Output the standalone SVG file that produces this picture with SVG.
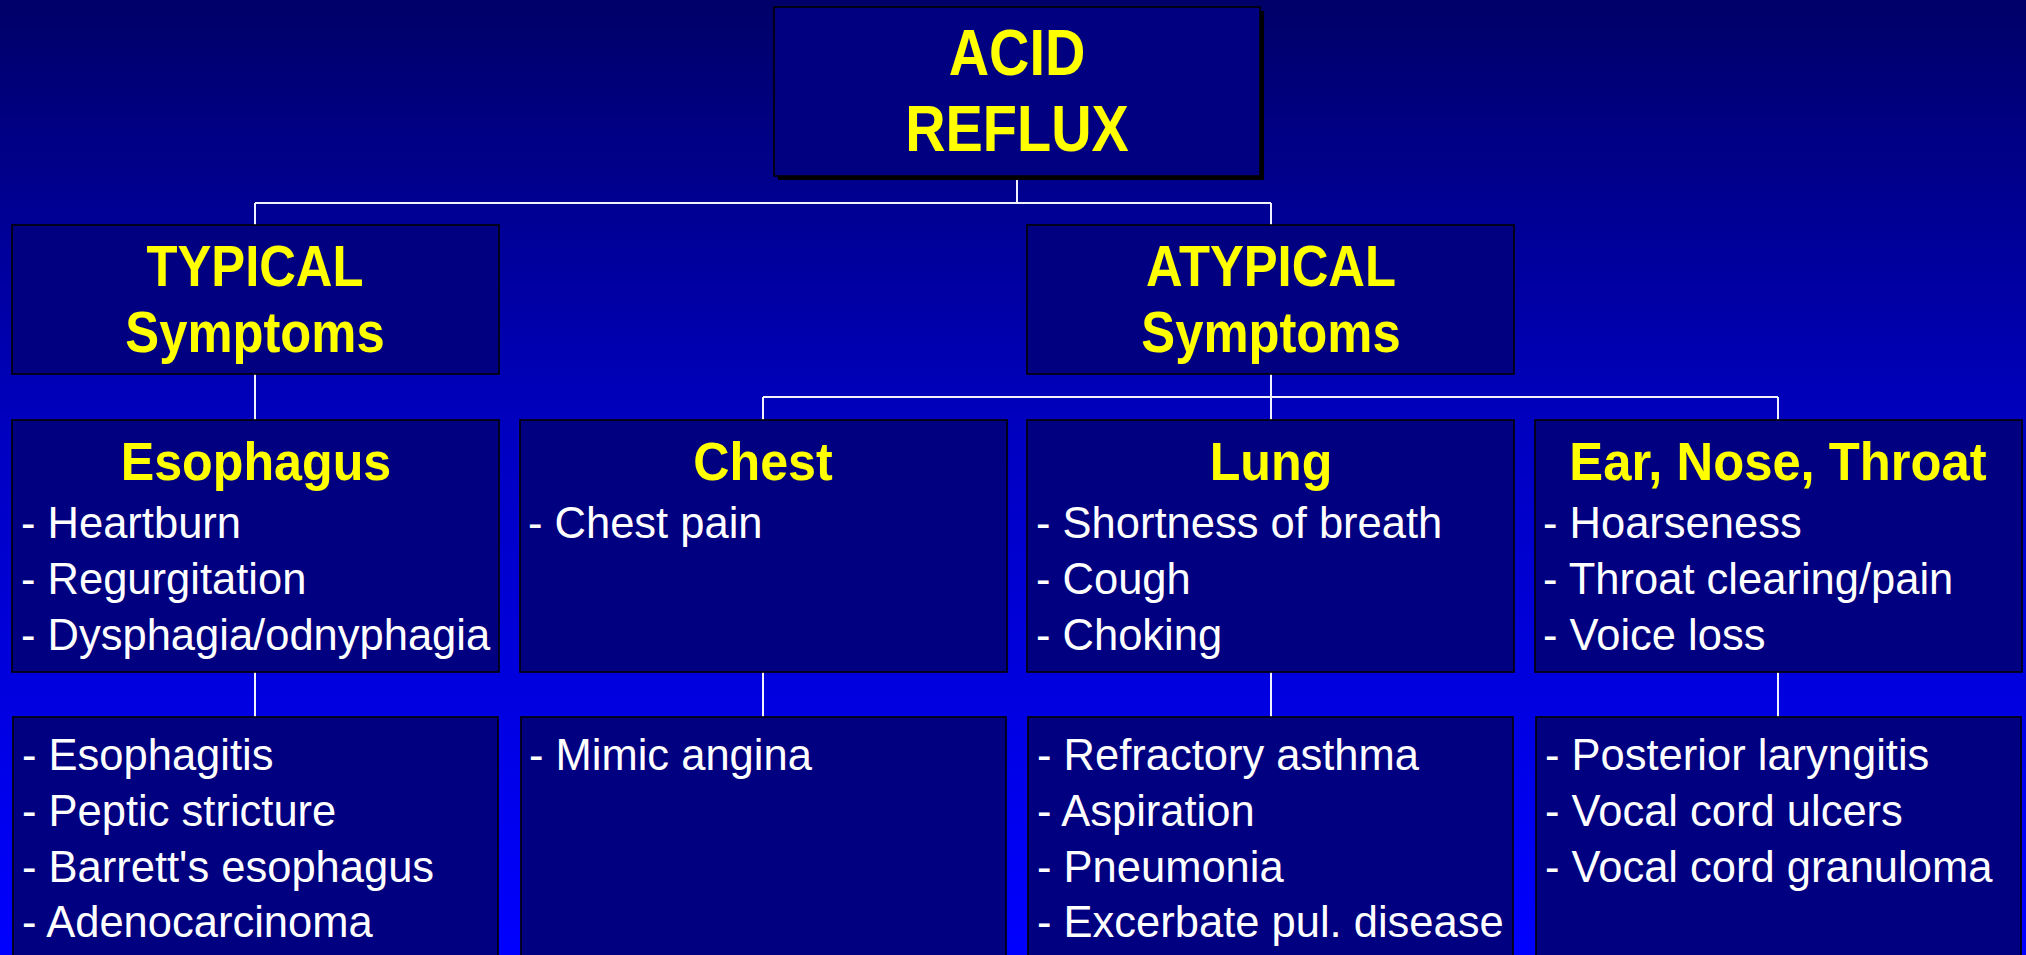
<svg xmlns="http://www.w3.org/2000/svg" width="2026" height="955" viewBox="0 0 2026 955">
<defs>
<linearGradient id="bg" x1="0" y1="0" x2="0" y2="955" gradientUnits="userSpaceOnUse">
<stop offset="0" stop-color="#000068"/>
<stop offset="0.45" stop-color="#0000c0"/>
<stop offset="1" stop-color="#0000ff"/>
</linearGradient>
</defs>
<style>
.box{fill:#000080;stroke:#000;stroke-width:1.6}
.shadow{fill:#000}
.conn{stroke:#f0f0ff;stroke-width:2;fill:none}
.hd{font-family:"Liberation Sans",Arial,sans-serif;font-weight:bold;fill:#ffff00;text-anchor:middle}
.it{font-family:"Liberation Sans",Arial,sans-serif;fill:#ffffff;font-size:43.5px}
</style>
<rect x="0" y="0" width="2026" height="955" fill="url(#bg)"/>
<g id="connectors">
<path class="conn" d="M1017 176V203M255 203H1271M255 203V225M1271 203V225"/>
<path class="conn" d="M255 374V420M1271 374V420M763 397H1778M763 397V420M1778 397V420"/>
<path class="conn" d="M255 672V717M763 672V717M1271 672V717M1778 672V717"/>
</g>
<g id="n-acid">
<rect class="shadow" x="778" y="11" width="486" height="169"/>
<rect class="box" x="774" y="7" width="486" height="169"/>
<text class="hd" font-size="65" transform="translate(1017,75) scale(0.86,1)">ACID</text>
<text class="hd" font-size="65" transform="translate(1017,151) scale(0.86,1)">REFLUX</text>
</g>
<g id="n-typical">
<rect class="box" x="12" y="225" width="487" height="149"/>
<text class="hd" font-size="57" transform="translate(255,286) scale(0.89,1)">TYPICAL</text>
<text class="hd" font-size="57" transform="translate(255,352) scale(0.89,1)">Symptoms</text>
</g>
<g id="n-atypical">
<rect class="box" x="1027" y="225" width="487" height="149"/>
<text class="hd" font-size="57" transform="translate(1271,286) scale(0.89,1)">ATYPICAL</text>
<text class="hd" font-size="57" transform="translate(1271,352) scale(0.89,1)">Symptoms</text>
</g>
<g id="n-esophagus">
<rect class="box" x="12" y="420" width="487" height="252"/>
<text class="hd" font-size="54" transform="translate(256,480) scale(0.93,1)">Esophagus</text>
<text class="it" x="21" y="538">- Heartburn</text>
<text class="it" x="21" y="594">- Regurgitation</text>
<text class="it" x="21" y="650">- Dysphagia/odnyphagia</text>
</g>
<g id="n-chest">
<rect class="box" x="520" y="420" width="487" height="252"/>
<text class="hd" font-size="54" transform="translate(763,480) scale(0.93,1)">Chest</text>
<text class="it" x="528" y="538">- Chest pain</text>
</g>
<g id="n-lung">
<rect class="box" x="1027" y="420" width="487" height="252"/>
<text class="hd" font-size="54" transform="translate(1271,480) scale(0.93,1)">Lung</text>
<text class="it" x="1036" y="538">- Shortness of breath</text>
<text class="it" x="1036" y="594">- Cough</text>
<text class="it" x="1036" y="650">- Choking</text>
</g>
<g id="n-ent">
<rect class="box" x="1535" y="420" width="487" height="252"/>
<text class="hd" font-size="54" transform="translate(1778,480) scale(0.94,1)">Ear, Nose, Throat</text>
<text class="it" x="1543" y="538">- Hoarseness</text>
<text class="it" x="1543" y="594">- Throat clearing/pain</text>
<text class="it" x="1543" y="650">- Voice loss</text>
</g>
<g id="n-esophagus-complications">
<rect class="box" x="13" y="717" width="485" height="260"/>
<text class="it" x="22" y="770">- Esophagitis</text>
<text class="it" x="22" y="826">- Peptic stricture</text>
<text class="it" x="22" y="882">- Barrett's esophagus</text>
<text class="it" x="22" y="937">- Adenocarcinoma</text>
</g>
<g id="n-chest-complications">
<rect class="box" x="521" y="717" width="485" height="260"/>
<text class="it" x="529" y="770">- Mimic angina</text>
</g>
<g id="n-lung-complications">
<rect class="box" x="1028" y="717" width="485" height="260"/>
<text class="it" x="1037" y="770">- Refractory asthma</text>
<text class="it" x="1037" y="826">- Aspiration</text>
<text class="it" x="1037" y="882">- Pneumonia</text>
<text class="it" x="1037" y="937">- Excerbate pul. disease</text>
</g>
<g id="n-ent-complications">
<rect class="box" x="1536" y="717" width="485" height="260"/>
<text class="it" x="1545" y="770">- Posterior laryngitis</text>
<text class="it" x="1545" y="826">- Vocal cord ulcers</text>
<text class="it" x="1545" y="882">- Vocal cord granuloma</text>
</g>
</svg>
